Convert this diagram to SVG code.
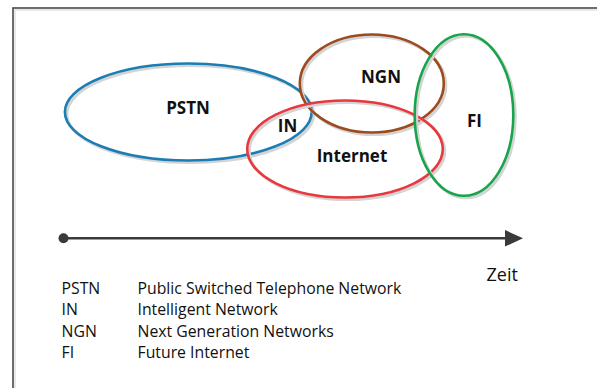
<svg xmlns="http://www.w3.org/2000/svg" width="597" height="388" viewBox="0 0 597 388">
<defs>
<style>
.shadow{fill:none;stroke:#d4d4d4;stroke-width:3}
.ring{fill:none;stroke-width:2.6}
.lbl{font-family:"Open Sans",sans-serif;font-weight:bold;font-size:17px;fill:#111}
.txt{font-family:"Open Sans",sans-serif;font-size:15.8px;fill:#111}
</style>
</defs>
<rect width="597" height="388" fill="#fff"/>
<g id="frame">
<rect x="15" y="10" width="600" height="400" fill="none" stroke="#e2e2e2" stroke-width="1.5"/>
<rect x="13" y="8" width="600" height="400" fill="none" stroke="#4a4a4a" stroke-width="1.6"/>
</g>
<g id="PSTN">
<ellipse class="shadow" cx="190.3" cy="114" rx="123.4" ry="48.5"/>
<ellipse class="ring" cx="188.3" cy="112" rx="123.4" ry="48.5" stroke="#1b7db4"/>
<text class="lbl" x="188" y="113.5" text-anchor="middle">PSTN</text>
</g>
<g id="NGN">
<ellipse class="shadow" cx="373.8" cy="85.5" rx="72" ry="49"/>
<ellipse class="ring" cx="371.8" cy="83.5" rx="72" ry="49" stroke="#9c4b1e"/>
<text class="lbl" x="381" y="83" text-anchor="middle">NGN</text>
</g>
<g id="Internet">
<ellipse class="shadow" cx="347" cy="151" rx="97.8" ry="48.5"/>
<ellipse class="ring" cx="345" cy="149" rx="97.8" ry="48.5" stroke="#e8383d"/>
<text class="lbl" x="352" y="161.5" text-anchor="middle">Internet</text>
</g>
<g id="IN">
<text class="lbl" x="287.5" y="131.5" text-anchor="middle">IN</text>
</g>
<g id="FI">
<ellipse class="shadow" cx="466" cy="117" rx="49.3" ry="80.8"/>
<ellipse class="ring" cx="464" cy="115" rx="49.3" ry="80.8" stroke="#17a44b"/>
<text class="lbl" x="474.5" y="126.5" text-anchor="middle">FI</text>
</g>
<g id="connectors">
<circle cx="63.5" cy="238.3" r="5" fill="#3a3a3a"/>
<line x1="63.5" y1="238.3" x2="508" y2="238.3" stroke="#3a3a3a" stroke-width="2.4"/>
<path d="M505,230 L523,238.3 L505,246.6 Z" fill="#3a3a3a"/>
</g>
<g id="Zeit">
<text class="txt" x="486.5" y="280.5" style="font-size:18px">Zeit</text>
</g>
<g id="legend">
<text class="txt" x="61.5" y="294">PSTN</text>
<text class="txt" x="137.5" y="294">Public Switched Telephone Network</text>
<text class="txt" x="61.5" y="315">IN</text>
<text class="txt" x="137.5" y="315">Intelligent Network</text>
<text class="txt" x="61.5" y="336.5">NGN</text>
<text class="txt" x="137.5" y="336.5">Next Generation Networks</text>
<text class="txt" x="61.5" y="358">FI</text>
<text class="txt" x="137.5" y="358">Future Internet</text>
</g>
</svg>
